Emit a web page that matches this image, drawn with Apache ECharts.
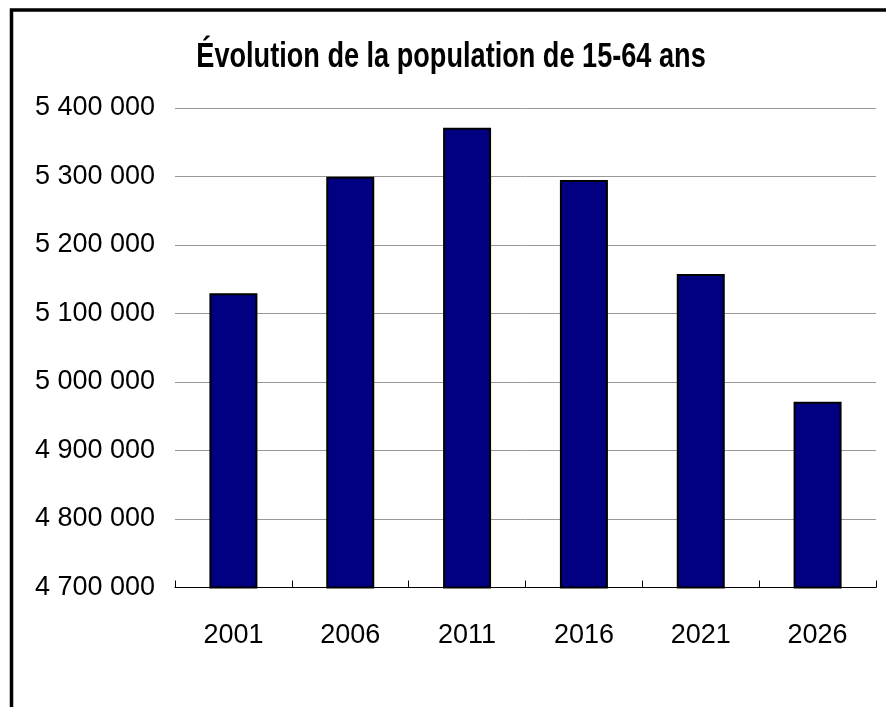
<!DOCTYPE html>
<html>
<head>
<meta charset="utf-8">
<script src="https://cdn.jsdelivr.net/npm/echarts@6/dist/echarts.min.js"></script>
<style>
  html, body { margin: 0; padding: 0; background: #fff; }
  #chart { width: 886px; height: 707px; }
</style>
</head>
<body>
<div id="chart"></div>
<script>
// données
var years = ['2001', '2006', '2011', '2016', '2021', '2026'];
var population = [5129500, 5299500, 5371000, 5295000, 5157500, 4971000];
var yTicks = [4700000, 4800000, 4900000, 5000000, 5100000, 5200000, 5300000, 5400000];
var titre = 'Évolution de la population de 15-64 ans';

var font = '"Liberation Sans", Arial, sans-serif';

function fmt(v) {
  return String(v).replace(/\B(?=(\d{3})+(?!\d))/g, ' ');
}

var chart = echarts.init(document.getElementById('chart'), null, { renderer: 'canvas' });

var option = {
  backgroundColor: '#ffffff',
  animation: false,
  graphic: [{
    type: 'rect',
    shape: { x: 11.5, y: 10, width: 1000, height: 1000 },
    style: { fill: 'none', stroke: '#000', lineWidth: 3.5 },
    silent: true
  }, {
    // titre (police étroite simulée par scaleX)
    type: 'text',
    x: 451,
    y: 57,
    scaleX: 0.775,
    style: {
      text: titre,
      fontFamily: font,
      fontWeight: 'bold',
      fontSize: 35,
      fill: '#000',
      align: 'center',
      verticalAlign: 'middle'
    }
  }],
  grid: {
    left: 175,
    right: 10,
    top: 108,
    bottom: 119.5,
    containLabel: false
  },
  xAxis: {
    type: 'category',
    data: years,
    axisLine: { lineStyle: { color: '#000', width: 1 } },
    axisTick: { show: true, inside: true, length: 7, interval: 0, lineStyle: { color: '#000', width: 1 } },
    axisLabel: {
      margin: 35,
      fontFamily: font,
      fontSize: 27,
      color: '#000'
    }
  },
  yAxis: {
    type: 'value',
    min: yTicks[0],
    max: yTicks[yTicks.length - 1],
    interval: yTicks[1] - yTicks[0],
    axisLine: { show: false },
    axisTick: { show: false },
    splitLine: { lineStyle: { color: '#999', width: 1 } },
    axisLabel: {
      margin: 20,
      fontFamily: font,
      fontSize: 27,
      color: '#000',
      formatter: fmt
    }
  },
  series: [{
    type: 'bar',
    data: population,
    barWidth: 48,
    itemStyle: {
      color: '#000080',
      borderColor: '#000',
      borderWidth: 2
    }
  }]
};

chart.setOption(option);
</script>
</body>
</html>
